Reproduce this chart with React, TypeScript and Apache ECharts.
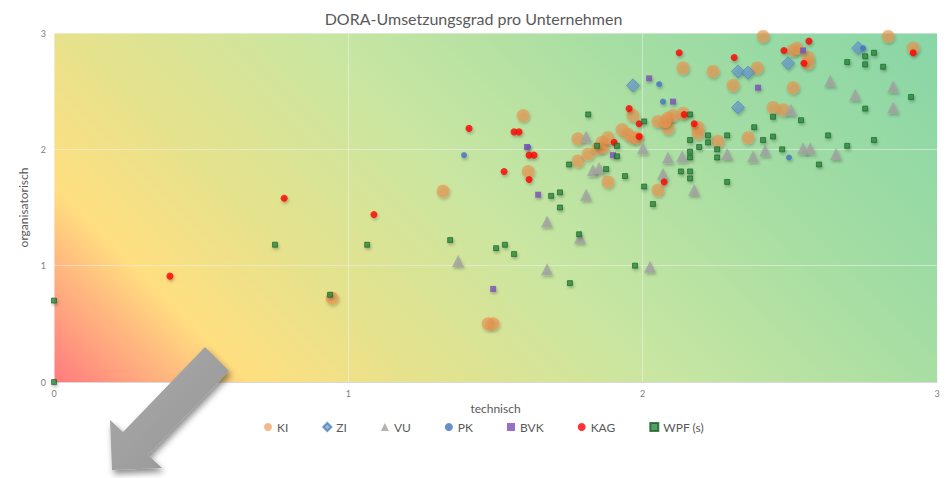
import React, { useEffect, useRef } from "react";
import * as echarts from "echarts";

const title = "DORA-Umsetzungsgrad pro Unternehmen";
const xName = "technisch";
const yName = "organisatorisch";
const axisTicks = [0, 1, 2, 3];

const kiData: number[][] = [
  [0.945, 0.72], [1.322, 1.64], [1.475, 0.5], [1.492, 0.5], [1.594, 2.29], [1.611, 1.81],
  [1.78, 2.09], [1.78, 1.9], [1.815, 1.96], [1.848, 2.01], [1.862, 2.06], [1.865, 2.02],
  [1.882, 2.1], [1.882, 1.72], [1.93, 2.17], [1.95, 2.13], [1.967, 2.1], [1.981, 2.1],
  [1.967, 2.29], [2.052, 2.24], [2.086, 2.27], [2.086, 2.18], [2.103, 2.29], [2.137, 2.31],
  [2.137, 2.7], [2.188, 2.19], [2.188, 2.14], [2.239, 2.67], [2.256, 2.07], [2.307, 2.55],
  [2.358, 2.1], [2.389, 2.7], [2.409, 2.97], [2.443, 2.36], [2.477, 2.34], [2.511, 2.85],
  [2.525, 2.87], [2.562, 2.79], [2.562, 2.74], [2.511, 2.53], [2.834, 2.97], [2.919, 2.87],
  [2.052, 1.65], [2.076, 2.24]
];
const ziData: number[][] = [
  [1.967, 2.55], [2.324, 2.67], [2.358, 2.66], [2.494, 2.74], [2.324, 2.36], [2.732, 2.87]
];
const vuData: number[][] = [
  [1.373, 1.04], [1.675, 1.38], [1.675, 0.97], [1.787, 1.24], [1.808, 2.11], [1.808, 1.61],
  [1.831, 1.82], [1.852, 1.84], [2.001, 2.01], [2.025, 0.99], [2.069, 1.79], [2.086, 1.93],
  [2.134, 1.94], [2.175, 1.65], [2.287, 1.96], [2.375, 1.94], [2.416, 1.99], [2.504, 2.34],
  [2.545, 2.01], [2.569, 2.01], [2.637, 2.59], [2.657, 1.96], [2.722, 2.47], [2.851, 2.54],
  [2.851, 2.36]
];
const pkData: number[][] = [
  [1.393, 1.95], [1.611, 2.02], [2.056, 2.56], [2.069, 2.41], [2.497, 1.93], [2.749, 2.87]
];
const bvkData: number[][] = [
  [1.492, 0.8], [1.645, 1.61], [1.607, 2.02], [1.899, 1.95], [2.022, 2.61], [2.103, 2.41],
  [2.392, 2.53], [2.545, 2.85]
];
const kagData: number[][] = [
  [0.394, 0.91], [0.782, 1.58], [1.087, 1.44], [1.41, 2.18], [1.563, 2.15], [1.58, 2.15],
  [1.614, 1.95], [1.631, 1.95], [1.529, 1.81], [1.614, 1.74], [1.903, 2.06], [1.954, 2.35],
  [1.988, 2.22], [1.988, 2.11], [2.073, 1.72], [2.124, 2.83], [2.141, 2.3], [2.175, 2.22],
  [2.311, 2.79], [2.48, 2.85], [2.565, 2.93], [2.548, 2.74], [2.919, 2.83]
];
const wpfData: number[][] = [
  [0, 0.7], [0, 0], [0.751, 1.18], [0.938, 0.75], [1.064, 1.18], [1.346, 1.22], [1.502, 1.15],
  [1.532, 1.18], [1.563, 1.1], [1.689, 1.6], [1.719, 1.63], [1.719, 1.5], [1.75, 1.87],
  [1.753, 0.85], [1.784, 1.27], [1.815, 2.3], [1.845, 2.03], [1.876, 1.83], [1.913, 2.03],
  [1.913, 1.94], [1.94, 1.77], [1.974, 1.0], [2.005, 2.24], [2.005, 1.68], [2.035, 1.53],
  [2.13, 1.81], [2.161, 2.3], [2.161, 2.08], [2.161, 1.98], [2.161, 1.93], [2.161, 1.81],
  [2.161, 1.75], [2.192, 2.02], [2.222, 2.12], [2.222, 2.06], [2.253, 2.0], [2.253, 1.93],
  [2.287, 2.12], [2.287, 1.72], [2.379, 2.19], [2.409, 2.08], [2.443, 2.28], [2.443, 2.11],
  [2.474, 2.0], [2.538, 2.25], [2.599, 1.87], [2.63, 2.12], [2.695, 2.75], [2.695, 2.03],
  [2.756, 2.8], [2.756, 2.73], [2.756, 2.35], [2.786, 2.83], [2.786, 2.08], [2.817, 2.71],
  [2.912, 2.45]
];

const seriesNames = ["KI", "ZI", "VU", "PK", "BVK", "KAG", "WPF (s)"];

const FONT = "Lato, 'Open Sans', sans-serif";

export default function App() {
  const ref = useRef<HTMLDivElement>(null);
  useEffect(() => {
    document.body.style.margin = "0";
    if (!ref.current) return;
    const chart = echarts.init(ref.current, undefined, { renderer: "svg" });
    const shadow = { shadowBlur: 3, shadowColor: "rgba(0,0,0,0.3)", shadowOffsetX: 1, shadowOffsetY: 2 };
    const mk = (name: string, data: number[][], symbol: string, size: number | number[], itemStyle: any) => ({
      name,
      type: "scatter",
      data,
      symbol,
      symbolSize: size,
      itemStyle,
      emphasis: { disabled: true },
    });
    const gridLine = { show: true, lineStyle: { color: "rgba(240,240,240,0.55)", width: 1 } };
    chart.setOption({
      animation: false,
      textStyle: { fontFamily: FONT },
      title: {
        text: title,
        left: "center",
        top: 5,
        textStyle: { fontFamily: FONT, fontSize: 16, fontWeight: "normal", color: "#595959" },
      },
      grid: {
        left: 54,
        right: 10,
        top: 33,
        bottom: 96,
        show: true,
        borderWidth: 0,
        backgroundColor: new echarts.graphic.LinearGradient(54, 382, 670, -234, [
          { offset: 0, color: "#FF7A7E" },
          { offset: 0.16, color: "#FFDF80" },
          { offset: 0.3, color: "#E5E28D" },
          { offset: 0.5, color: "#C8E6A2" },
          { offset: 0.75, color: "#A3DDA3" },
          { offset: 1, color: "#88D6A7" },
        ], true),
      },
      legend: {
        data: seriesNames,
        bottom: 40,
        left: 259,
        itemGap: 34,
        itemWidth: 8,
        itemHeight: 8,
        textStyle: { fontFamily: FONT, fontSize: 12, color: "#595959" },
      },
      xAxis: {
        type: "value",
        min: 0,
        max: 3,
        interval: 1,
        name: xName,
        nameLocation: "middle",
        nameGap: 15,
        nameTextStyle: { fontFamily: FONT, fontSize: 12, color: "#595959" },
        axisLine: { show: true, lineStyle: { color: "#D9D9D9" } },
        axisTick: { show: false },
        axisLabel: { fontSize: 9, color: "#808080", margin: 7, formatter: (v: number) => (axisTicks.includes(v) ? String(v) : "") },
        splitLine: gridLine,
      },
      yAxis: {
        type: "value",
        min: 0,
        max: 3,
        interval: 1,
        name: yName,
        nameLocation: "middle",
        nameGap: 16,
        nameTextStyle: { fontFamily: FONT, fontSize: 12, color: "#595959" },
        axisLine: { show: false },
        axisTick: { show: false },
        axisLabel: { fontSize: 9, color: "#808080", margin: 8 },
        splitLine: gridLine,
      },
      graphic: [
        {
          type: "polygon",
          z: 100,
          shape: {
            points: [
              [112, 470], [110, 420], [123, 432], [205, 347], [229, 371], [148, 455], [162, 468],
            ],
          },
          style: {
            fill: new echarts.graphic.LinearGradient(0, 0, 1, 1, [
              { offset: 0, color: "#ABABAB" },
              { offset: 1, color: "#959595" },
            ]),
            shadowBlur: 6,
            shadowColor: "rgba(0,0,0,0.45)",
            shadowOffsetX: 2,
            shadowOffsetY: 4,
          },
        },
      ],
      series: [
        mk("KI", kiData, "circle", 13, { color: "rgba(233,148,78,0.82)", ...shadow }),
        mk("ZI", ziData, "diamond", 13, { color: "rgba(100,150,205,0.85)", borderColor: "#4F81BD", borderWidth: 0.8, ...shadow }),
        mk("VU", vuData, "triangle", 12, { color: "#A0A0A0", ...shadow }),
        mk("PK", pkData, "circle", 6, { color: "#4472C4", ...shadow }),
        mk("BVK", bvkData, "rect", 6, { color: "#7A4FB8", ...shadow }),
        mk("KAG", kagData, "circle", 7, { color: "#FF0000", ...shadow }),
        mk("WPF (s)", wpfData, "rect", 5, { color: "#2A8A3C", borderColor: "#165E26", borderWidth: 0.8, ...shadow }),
      ],
    });
    return () => chart.dispose();
  }, []);
  return <div ref={ref} style={{ width: 947, height: 478 }} />;
}
